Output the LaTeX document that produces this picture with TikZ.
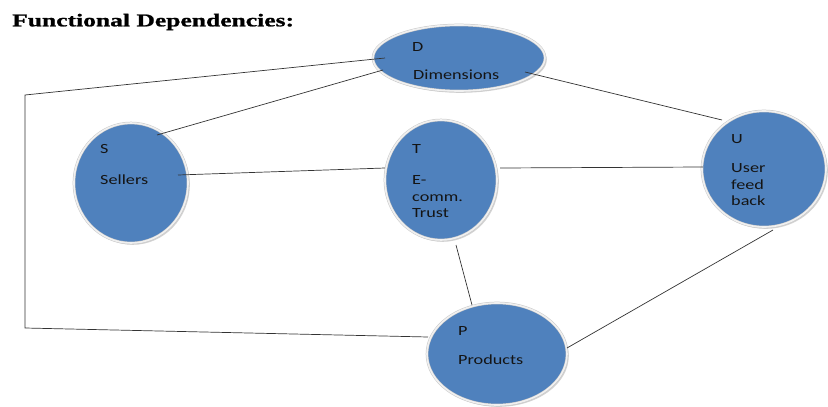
\documentclass[tikz,border=0pt]{standalone}
\usepackage{fontspec}
\usetikzlibrary{shapes.geometric,calc,shadows}
\newfontfamily\titlefont[FakeStretch=1.42,FakeBold=1.2]{Liberation Serif}
\newfontfamily\boxfont[FakeStretch=1.3]{Carlito}
\definecolor{entblue}{RGB}{79,129,189}
\tikzset{
  entity/.style={ellipse, fill=entblue, draw=black!22, line width=0.5pt,
    double=white!94!black, double distance=1.6pt, inner sep=0pt, outer sep=0pt,
    drop shadow={shadow xshift=1.8pt, shadow yshift=-1.8pt, opacity=0.35}},
  txt/.style={anchor=west, inner sep=0pt, align=left,
    font=\boxfont\fontsize{14}{16.5}\selectfont, text=black!92},
  link/.style={draw=black!80, line width=0.7pt}
}
\begin{document}
\begin{tikzpicture}[x=1pt,y=-1pt]
        \useasboundingbox (0,0) rectangle (828,407);

        \node[anchor=west, inner sep=0pt, font=\titlefont\bfseries\fontsize{18}{20}\selectfont] (title) at (12,22) {Functional Dependencies:};

        \node[entity, minimum width=172pt, minimum height=66pt] (d) at (459,58) {};
        \node[entity, minimum width=114pt, minimum height=120pt] (s) at (131,183) {};
        \node[entity, minimum width=112pt, minimum height=120pt] (t) at (441,180) {};
        \node[entity, minimum width=124pt, minimum height=116pt] (u) at (764,169) {};
        \node[entity, minimum width=140pt, minimum height=102pt] (p) at (497,354) {};

        \node[txt] (dk) at (412,47) {D};
        \node[txt] (dn) at (413,75) {Dimensions};
        \node[txt] (sk) at (100,149) {S};
        \node[txt] (sn) at (100,180) {Sellers};
        \node[txt] (tk) at (412,149) {T};
        \node[txt] (tn) at (412,197) {E-\\comm.\\Trust};
        \node[txt] (uk) at (731,139) {U};
        \node[txt] (un) at (731,185) {User\\feed\\back};
        \node[txt] (pk) at (458,331) {P};
        \node[txt] (pn) at (458,360) {Products};

        \draw[link] ($(d)+(-74,0)$) -- (25,95) -- (25,328) -- ($(p)+(-69,-17)$);
        \draw[link] ($(d)+(-76,12)$) -- ($(s)+(26,-48)$);
        \draw[link] ($(d)+(66,14)$) -- ($(u)+(-42,-49)$);
        \draw[link] ($(s)+(47,-8)$) -- ($(t)+(-56,-12)$);
        \draw[link] ($(t)+(59,-12)$) -- ($(u)+(-61,-2)$);
        \draw[link] ($(t)+(15,65)$) -- ($(p)+(-25,-49)$);
        \draw[link] ($(u)+(9,61)$) -- ($(p)+(70,-6)$);
    \end{tikzpicture}
\end{document}
